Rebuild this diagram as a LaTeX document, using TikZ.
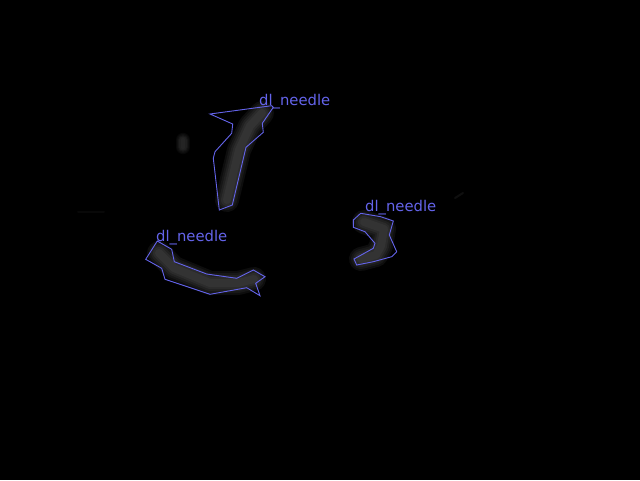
\documentclass[tikz,border=0pt]{standalone}
\usepackage{fontspec}
\setsansfont{DejaVu Sans}
\usepackage{tikz}

\definecolor{boxblue}{RGB}{100,100,235}

\tikzset{
    outline/.style={draw=boxblue, line width=0.9pt, line join=miter},
    tag/.style={text=boxblue, font=\sffamily\fontsize{14.8}{15}\selectfont, anchor=base west, inner sep=0pt}
}

\begin{document}
\begin{tikzpicture}[x=1pt, y=-1pt]

    \fill[black] (0,0) rectangle (640,480);
    \useasboundingbox (0,0) rectangle (640,480);

    % blurred grey blobs
    \foreach \w/\c/\d in {24/5/3, 20/9/6, 16/13/9, 12/17/12, 8/20/14} {
        \draw[line width=\w pt, white!\c!black, line cap=round, line join=round]
        (262,113) -- (250,126) -- (239,150) -- (227,200);
        \draw[line width=\w pt, white!\c!black, line cap=round, line join=round]
        (159,253) -- (174,268) -- (210,283) -- (238,283) -- (254,279);
        \draw[line width=\w pt, white!\c!black, line cap=round, line join=round]
        (364,222) -- (384,229) -- (381,246) -- (376,255) -- (361,259);
        \draw[line width=0.6*\w pt, white!\d!black, line cap=round]
        (183,140) -- (183,147);
    }
    \draw[line width=2pt, white!6!black, line cap=round] (455,198) -- (463,193);
    \draw[line width=2pt, white!3!black, line cap=round] (78,212) -- (104,212);

    % needle outlines
    \draw[outline] (210,114) -- (232.7,124) -- (231.7,133.3) -- (215,151.7) -- (213.3,158.3)
        -- (219.3,210) -- (232.3,205) -- (246,147.3) -- (263.3,132.3) -- (262.3,123.3)
        -- (273.3,107.3) -- (271.7,105.7) -- cycle;
    \draw[outline] (145.7,259.3) -- (157.3,241) -- (171.7,249.3) -- (174.3,261.7) -- (206.7,274)
        -- (236.7,278.3) -- (253.3,270) -- (265,276.7) -- (255.7,283.3) -- (260,295.7)
        -- (246.7,287.7) -- (210,294.3) -- (165,279.3) -- (161.7,268.3) -- cycle;
    \draw[outline] (360.7,213.3) -- (380.7,216.7) -- (393.3,221) -- (389.3,235) -- (396.7,251.7)
        -- (391.7,256.7) -- (373.3,261.7) -- (356.7,265) -- (354,259) -- (373.3,248.3)
        -- (375,243.3) -- (365,231.7) -- (353.3,227.3) -- (353.3,220) -- cycle;

    % labels
    \node[tag] (N1) at (259,105) {dl\_needle};
    \node[tag] (N2) at (156,241.5) {dl\_needle};
    \node[tag] (N3) at (365,211.5) {dl\_needle};

\end{tikzpicture}
\end{document}
